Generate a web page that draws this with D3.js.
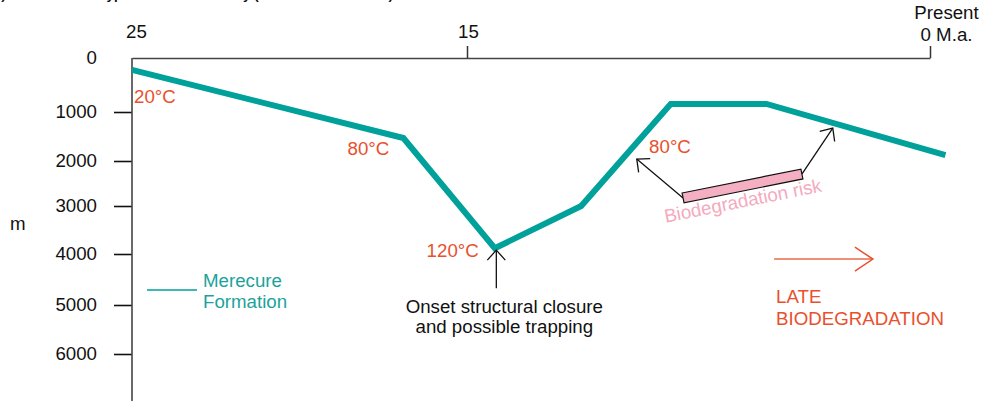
<!DOCTYPE html>
<html><head><meta charset="utf-8">
<script src="https://cdn.jsdelivr.net/npm/d3@7/dist/d3.min.js"></script>
<style>
html,body{margin:0;padding:0;background:#fff;overflow:hidden}
svg{display:block;font-family:"Liberation Sans",Arial,Helvetica,sans-serif}
</style></head><body>
<svg id="chart" width="981" height="401"></svg>
<script>
// ---------- data ----------
const titleText = "b) Accumulation type field burial history (Merecure Formation)";
const ageTicks = [25, 15, 0];
const ageTickLabels = ["25", "15", "0 M.a."];
const presentLabel = "Present";
const depthTicks = [0, 1000, 2000, 3000, 4000, 5000, 6000];
const depthTickLabels = ["0", "1000", "2000", "3000", "4000", "5000", "6000"];
const depthUnit = "m";

const burialAges   = [25, 16.9, 14.1, 11.3, 8.4, 5.3, -0.5];
const burialDepths = [220, 1530, 3880, 3000, 850, 850, 1880];
const seriesName = ["Merecure", "Formation"];

const tempLabels = ["20°C", "80°C", "120°C", "80°C"];
const tempAges   = [25, 16.9, 14.1, 9.1];
const tempDepths = [220, 1530, 3880, 1840];

const riskBarAges   = [8.0, 4.15];
const riskBarDepths = [2820, 2290];
const riskArrowTipAges   = [9.5, 3.15];
const riskArrowTipDepths = [1960, 1330];
const riskLabel = "Biodegradation risk";

const closureAge = 14.05;
const closureDepths = [4670, 3920];
const closureText = ["Onset structural closure", "and possible trapping"];

const lateArrowAges = [5.05, 1.85];
const lateArrowDepth = 4100;
const lateText = ["LATE", "BIODEGRADATION"];

// ---------- styles ----------
const TEAL = "#00A19A", ORANGE = "#E9502C", PINK = "#F4AFC2", PINKTXT = "#F5A9BE", INK = "#111";
const FS = 18.7;

const svg = d3.select("#chart");
const x = d3.scaleLinear().domain(ageTicks).range([132, 467, 930]);
const y = d3.scaleLinear().domain(depthTicks).range([58, 112, 161, 206, 254, 305, 354]);

const defs = svg.append("defs");
defs.append("marker").attr("id", "openBlack")
  .attr("viewBox", "-20 -20 40 40").attr("markerWidth", 40).attr("markerHeight", 40)
  .attr("markerUnits", "userSpaceOnUse").attr("orient", "auto").attr("refX", 0).attr("refY", 0)
  .append("path").attr("d", "M-10,-9L0,0L-10,9").attr("fill", "none").attr("stroke", INK).attr("stroke-width", 1.3);
defs.append("marker").attr("id", "openOrange")
  .attr("viewBox", "-25 -20 50 40").attr("markerWidth", 50).attr("markerHeight", 40)
  .attr("markerUnits", "userSpaceOnUse").attr("orient", "auto").attr("refX", 0).attr("refY", 0)
  .append("path").attr("d", "M-18,-12L0,0L-18,12").attr("fill", "none").attr("stroke", ORANGE).attr("stroke-width", 1.5);

// clipped title (only its descenders show in the reference)
svg.append("text").attr("x", -7).attr("y", -1.5).attr("font-size", 13.5).attr("font-weight", "bold")
  .attr("fill", INK).text(titleText);

// top (age) axis
const gx = svg.append("g").attr("transform", "translate(0,58)")
  .call(d3.axisTop(x).tickValues(ageTicks).tickSize(12).tickSizeOuter(0).tickPadding(8)
    .tickFormat((d, i) => ageTickLabels[i]));
gx.select(".domain").attr("stroke", "#444").attr("stroke-width", 1.6);
gx.selectAll(".tick line").attr("stroke", "#333").attr("stroke-width", 1.5);
gx.selectAll(".tick text").attr("font-size", FS).attr("font-family", null).attr("fill", INK).attr("dx", 4);
gx.selectAll(".tick").filter(d => d === 25).select("line").remove();
gx.selectAll(".tick").filter(d => d === 15).select("text").attr("dx", 1);
gx.selectAll(".tick").filter(d => d === 0).each(function () {
  const t = d3.select(this).select("text").text(null).attr("dx", null).attr("y", null);
  t.append("tspan").attr("x", 16).attr("y", -39).text(presentLabel);
  t.append("tspan").attr("x", 16).attr("y", -17).text(ageTickLabels[2]);
});

// left (depth) axis
const gy = svg.append("g").attr("transform", "translate(132,0)")
  .call(d3.axisLeft(y).tickValues(depthTicks).tickSize(18).tickPadding(17)
    .tickFormat((d, i) => depthTickLabels[i]));
gy.select(".domain").remove();
gy.selectAll(".tick line").attr("stroke", INK).attr("stroke-width", 1.6);
gy.selectAll(".tick text").attr("font-size", FS).attr("font-family", null).attr("fill", INK);
gy.selectAll(".tick").filter(d => d === 0).select("line").remove();
svg.append("line").attr("x1", 132).attr("x2", 132).attr("y1", y(0)).attr("y2", 401)
  .attr("stroke", "#444").attr("stroke-width", 1.6);
svg.append("text").attr("x", 10).attr("y", 230).attr("font-size", FS).attr("fill", INK).text(depthUnit);

// burial curve
const pts = burialAges.map((a, i) => [a, burialDepths[i]]);
svg.append("path").datum(pts)
  .attr("d", d3.line().x(d => x(d[0])).y(d => y(d[1])))
  .attr("fill", "none").attr("stroke", TEAL).attr("stroke-width", 6)
  .attr("stroke-linejoin", "miter").attr("stroke-linecap", "butt");

// temperature labels
const tempStyle = [
  {anchor: "start", dx: 2, dy: 33},
  {anchor: "end", dx: -14, dy: 17},
  {anchor: "end", dx: -16, dy: 9},
  {anchor: "start", dx: 0, dy: 0}
];
tempLabels.forEach((t, i) => {
  svg.append("text").attr("x", x(tempAges[i]) + tempStyle[i].dx).attr("y", y(tempDepths[i]) + tempStyle[i].dy)
    .attr("text-anchor", tempStyle[i].anchor).attr("font-size", FS).attr("fill", ORANGE).text(t);
});

// legend
svg.append("line").attr("x1", 147).attr("x2", 197).attr("y1", 290).attr("y2", 290)
  .attr("stroke", TEAL).attr("stroke-width", 1.5);
seriesName.forEach((s, i) => {
  svg.append("text").attr("x", 203).attr("y", 287 + i * 21).attr("font-size", FS).attr("fill", "#1BA39B").text(s);
});

// closure arrow + text
const cx = x(closureAge);
svg.append("line").attr("x1", cx).attr("x2", cx).attr("y1", y(closureDepths[0])).attr("y2", y(closureDepths[1]))
  .attr("stroke", INK).attr("stroke-width", 1.3).attr("marker-end", "url(#openBlack)");
closureText.forEach((t, i) => {
  svg.append("text").attr("x", cx + 8).attr("y", y(closureDepths[0]) + 25 + i * 20)
    .attr("text-anchor", "middle").attr("font-size", FS).attr("fill", INK).text(t);
});

// biodegradation risk arrows
riskBarAges.forEach((a, i) => {
  svg.append("line").attr("x1", x(a)).attr("y1", y(riskBarDepths[i]))
    .attr("x2", x(riskArrowTipAges[i])).attr("y2", y(riskArrowTipDepths[i]))
    .attr("stroke", INK).attr("stroke-width", 1.3).attr("marker-end", "url(#openBlack)");
});
// bar
const p1 = [x(riskBarAges[0]), y(riskBarDepths[0])];
const p2 = [x(riskBarAges[1]), y(riskBarDepths[1])];
const ang = Math.atan2(p2[1] - p1[1], p2[0] - p1[0]);
const nx = -Math.sin(ang) * 5, ny = Math.cos(ang) * 5;
svg.append("polygon")
  .attr("points", [[p1[0] - nx, p1[1] - ny], [p2[0] - nx, p2[1] - ny], [p2[0] + nx, p2[1] + ny], [p1[0] + nx, p1[1] + ny]].map(p => p.join(",")).join(" "))
  .attr("fill", PINK).attr("stroke", INK).attr("stroke-width", 1.2);
svg.append("text").attr("transform", `translate(${p1[0]},${p1[1]}) rotate(${ang * 180 / Math.PI})`)
  .attr("x", -22).attr("y", 21).attr("font-size", FS).attr("fill", PINKTXT).text(riskLabel);

// late biodegradation arrow
svg.append("line").attr("x1", x(lateArrowAges[0])).attr("x2", x(lateArrowAges[1]))
  .attr("y1", y(lateArrowDepth)).attr("y2", y(lateArrowDepth))
  .attr("stroke", "#EC6A48").attr("stroke-width", 1.5).attr("marker-end", "url(#openOrange)");
lateText.forEach((t, i) => {
  svg.append("text").attr("x", x(lateArrowAges[0]) + 2).attr("y", y(lateArrowDepth) + 44 + i * 22)
    .attr("font-size", FS).attr("fill", ORANGE).text(t);
});
</script>
</body></html>
